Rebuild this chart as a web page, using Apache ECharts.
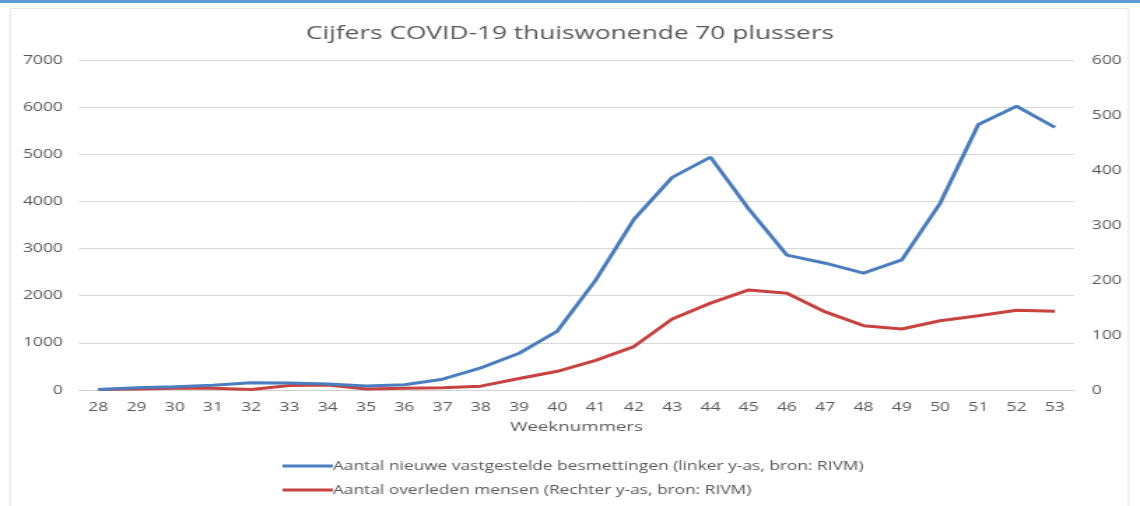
<!DOCTYPE html>
<html>
<head>
<meta charset="utf-8">
<script src="https://cdn.jsdelivr.net/npm/echarts@6/dist/echarts.min.js"></script>
<style>
html,body{margin:0;padding:0;background:#fff;overflow:hidden;}
#wrap{width:1140px;height:506px;position:relative;overflow:hidden;}
#c{width:815px;height:506px;transform-origin:0 0;transform:scaleX(1.3988);}
</style>
</head>
<body>
<div id="wrap"><div id="c"></div></div>
<script>
const weeks = ['28','29','30','31','32','33','34','35','36','37','38','39','40','41','42','43','44','45','46','47','48','49','50','51','52','53'];
const besmettingen = [10,50,70,100,155,150,125,85,110,230,470,780,1250,2330,3620,4510,4940,3840,2860,2690,2480,2760,3960,5630,6020,5570];
const overleden = [1,2,3,3,1,8,9,2,3,4,7,21,34,54,79,129,158,182,176,142,117,111,126,135,145,143];
const leftTicks = {min:0, max:7000, interval:1000};
const rightTicks = {min:0, max:600, interval:100};
const titleText = 'Cijfers COVID-19 thuiswonende 70 plussers';
const xName = 'Weeknummers';
const seriesNames = ['Aantal nieuwe vastgestelde besmettingen (linker y-as, bron: RIVM)','Aantal overleden mensen (Rechter y-as, bron: RIVM)'];

const chart = echarts.init(document.getElementById('c'), null, {renderer:'canvas'});
const font = '"Open Sans", "Noto Sans", sans-serif';
const grey = '#595959';
chart.setOption({
  animation:false,
  backgroundColor:'#fff',
  graphic:[
    {type:'rect', shape:{x:0,y:0,width:815,height:3}, style:{fill:'#5b9bd5'}, z:-1},
    {type:'rect', shape:{x:7.3,y:8.5,width:799.5,height:510}, style:{fill:'none', stroke:'#e6e6e6', lineWidth:1}, z:-1}
  ],
  title:{text:titleText, left:'center', top:19, textStyle:{fontFamily:font, fontSize:18.8, fontWeight:'normal', color:grey}},
  grid:{left:56.5, right:47.2, top:60, bottom:116},
  legend:{orient:'vertical', left:202, top:458.5, height:60, padding:0, itemWidth:36, itemHeight:3, itemGap:9, icon:'rect',
    textStyle:{fontFamily:font, fontSize:12.4, lineHeight:15, color:grey, padding:[0,0,0,-5]},
    data:seriesNames},
  xAxis:{type:'category', data:weeks, boundaryGap:true,
    name:xName, nameLocation:'middle', nameGap:31, nameTextStyle:{fontFamily:font, fontSize:13.4, color:grey},
    axisLine:{lineStyle:{color:'#d0d0d0'}}, axisTick:{show:false},
    axisLabel:{fontFamily:font, fontSize:12.5, color:grey, margin:11}},
  yAxis:[
    {type:'value', min:leftTicks.min, max:leftTicks.max, interval:leftTicks.interval,
      axisLine:{show:false}, axisTick:{show:false},
      axisLabel:{fontFamily:font, fontSize:12.5, color:grey, margin:11.5, formatter:v => String(v)},
      splitLine:{lineStyle:{color:'#d9d9d9'}}},
    {type:'value', min:rightTicks.min, max:rightTicks.max, interval:rightTicks.interval, position:'right',
      axisLine:{show:false}, axisTick:{show:false},
      axisLabel:{fontFamily:font, fontSize:12.5, color:grey, margin:12.7, formatter:v => String(v)},
      splitLine:{show:false}}
  ],
  series:[
    {name:seriesNames[0], type:'line', yAxisIndex:0, data:besmettingen, showSymbol:false, symbol:'none',
      lineStyle:{width:3, color:'#4a7ebf'}, itemStyle:{color:'#4a7ebf'}, z:3},
    {name:seriesNames[1], type:'line', yAxisIndex:1, data:overleden, showSymbol:false, symbol:'none',
      lineStyle:{width:3, color:'#c8423f'}, itemStyle:{color:'#c8423f'}, z:2}
  ]
});
</script>
</body>
</html>
